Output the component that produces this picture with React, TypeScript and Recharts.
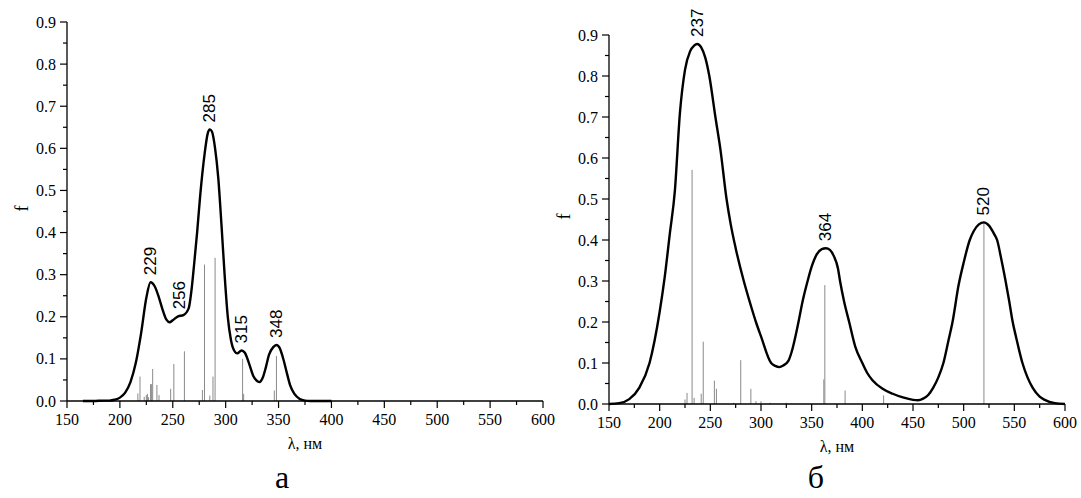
import { ComposedChart, Line, XAxis, YAxis, ReferenceLine, Scatter } from "recharts";

// spectrum a: broadened curve
const wlA = [165, 175, 185, 190, 195, 200, 205, 210, 215, 220, 225, 229, 233, 237, 240, 244, 247, 250, 255, 260, 265, 268, 270, 273, 276, 280, 283, 285, 287, 290, 293, 296, 299, 302, 305, 308, 311, 315, 318, 322, 326, 330, 332, 335, 338, 341, 345, 348, 351, 355, 358, 361, 365, 370, 375, 380, 390, 400];
const fA = [0, 0, 0.001, 0.001, 0.003, 0.008, 0.02, 0.045, 0.09, 0.16, 0.245, 0.282, 0.272, 0.245, 0.22, 0.193, 0.187, 0.192, 0.201, 0.204, 0.22, 0.27, 0.32, 0.4, 0.49, 0.585, 0.635, 0.645, 0.64, 0.6, 0.53, 0.42, 0.3, 0.2, 0.145, 0.12, 0.113, 0.12, 0.115, 0.09, 0.06, 0.047, 0.045, 0.055, 0.08, 0.11, 0.128, 0.133, 0.126, 0.095, 0.065, 0.037, 0.017, 0.005, 0.001, 0, 0, 0];

// spectrum a: oscillator strengths
const stickWlA = [217, 219, 223, 225, 226, 227, 229, 230, 231, 235, 237, 248, 251, 261, 278, 280, 285, 288, 290, 316, 317, 346, 348];
const stickFA = [0.018, 0.058, 0.01, 0.014, 0.017, 0.009, 0.04, 0.04, 0.076, 0.038, 0.014, 0.029, 0.088, 0.118, 0.026, 0.324, 0.013, 0.058, 0.34, 0.1, 0.017, 0.025, 0.107];

const peaksA = [229, 256, 285, 315, 348];

// spectrum б: broadened curve
const wlB = [150, 160, 170, 180, 190, 200, 205, 210, 215, 220, 225, 230, 234, 237, 241, 245, 249, 255, 260, 266, 270, 275, 283, 290, 295, 300, 310, 314, 318, 322, 327, 330, 337, 341, 346, 350, 355, 360, 364, 368, 372, 376, 378, 382, 387, 393, 400, 405, 410, 420, 430, 440, 450, 455, 460, 465, 470, 475, 480, 485, 489, 495, 500, 506, 510, 515, 520, 525, 530, 533, 537, 541, 545, 548, 552, 558, 563, 568, 575, 580, 590, 600];
const fB = [0, 0.002, 0.012, 0.04, 0.1, 0.225, 0.31, 0.415, 0.52, 0.71, 0.815, 0.86, 0.874, 0.878, 0.87, 0.845, 0.8, 0.7, 0.62, 0.5, 0.44, 0.38, 0.3, 0.24, 0.2, 0.165, 0.1, 0.093, 0.09, 0.094, 0.105, 0.125, 0.2, 0.25, 0.3, 0.335, 0.365, 0.378, 0.38, 0.376, 0.36, 0.33, 0.3, 0.25, 0.2, 0.14, 0.1, 0.075, 0.058, 0.037, 0.025, 0.016, 0.01, 0.009, 0.013, 0.022, 0.04, 0.065, 0.1, 0.155, 0.2, 0.29, 0.345, 0.4, 0.422, 0.438, 0.443, 0.435, 0.415, 0.4, 0.355, 0.305, 0.25, 0.205, 0.16, 0.1, 0.065, 0.04, 0.018, 0.01, 0.002, 0];

const stickWlB = [225, 227, 232, 234, 241, 243, 254, 256, 273, 280, 290, 295, 300, 309, 325, 362, 363, 383, 421, 520];
const stickFB = [0.011, 0.027, 0.571, 0.015, 0.025, 0.152, 0.057, 0.037, 0.003, 0.107, 0.037, 0.007, 0.007, 0.003, 0.003, 0.06, 0.29, 0.033, 0.021, 0.443];

const peaksB = [237, 364, 520];

const xTicks = [150, 175, 200, 225, 250, 275, 300, 325, 350, 375, 400, 425, 450, 475, 500, 525, 550, 575, 600];
const yTicks = [0, 0.05, 0.1, 0.15, 0.2, 0.25, 0.3, 0.35, 0.4, 0.45, 0.5, 0.55, 0.6, 0.65, 0.7, 0.75, 0.8, 0.85, 0.9];

const serif = "Liberation Serif, serif";
const sans = "Liberation Sans, sans-serif";

function nearestF(wl: number[], f: number[], x: number) {
  let best = 0;
  wl.forEach((w, i) => {
    if (Math.abs(w - x) < Math.abs(wl[best] - x)) best = i;
  });
  return f[best];
}

function XTick(props: any) {
  const { x, y, payload } = props;
  const major = payload.value % 50 === 0;
  return (
    <g>
      <line x1={x} y1={y} x2={x} y2={y + (major ? 7 : 4)} stroke="#000" strokeWidth={1.2} />
      {major && (
        <text x={x} y={y + 24} textAnchor="middle" style={{ fontFamily: serif, fontSize: 16, fill: "#000" }}>
          {payload.value}
        </text>
      )}
    </g>
  );
}

function YTick(props: any) {
  const { x, y, payload } = props;
  const major = Math.round(payload.value * 100) % 10 === 0;
  return (
    <g>
      <line x1={x} y1={y} x2={x - (major ? 7 : 4)} y2={y} stroke="#000" strokeWidth={1.2} />
      {major && (
        <text x={x - 11} y={y} dy="0.35em" textAnchor="end" style={{ fontFamily: serif, fontSize: 16, fill: "#000" }}>
          {payload.value.toFixed(1)}
        </text>
      )}
    </g>
  );
}

function PeakLabel(props: any) {
  const { cx, cy, payload } = props;
  const y = cy - 7;
  return (
    <text
      x={cx}
      y={y}
      transform={`rotate(-90 ${cx} ${y})`}
      textAnchor="start"
      dominantBaseline="central"
      style={{ fontFamily: sans, fontSize: 17, fill: "#000" }}
    >
      {payload.label}
    </text>
  );
}

function Spectrum({ wl, f, stickWl, stickF, peaks, width, height, margin }: any) {
  const curve = wl.map((w: number, i: number) => ({ wl: w, f: f[i] }));
  const peakData = peaks.map((p: number) => ({ wl: p, f: nearestF(wl, f, p), label: String(p) }));
  return (
    <ComposedChart width={width} height={height} margin={margin}>
      <XAxis
        type="number"
        dataKey="wl"
        domain={[150, 600]}
        ticks={xTicks}
        interval={0}
        tickSize={0}
        tickMargin={0}
        tickLine={false}
        tick={<XTick />}
        height={60}
        axisLine={{ stroke: "#000", strokeWidth: 1.3 }}
        label={{ value: "λ, нм", position: "insideBottom", offset: 12, style: { fontFamily: serif, fontSize: 16, fill: "#000" } }}
      />
      <YAxis
        type="number"
        domain={[0, 0.9]}
        ticks={yTicks}
        interval={0}
        tickSize={0}
        tickMargin={0}
        tickLine={false}
        tick={<YTick />}
        width={46}
        axisLine={{ stroke: "#000", strokeWidth: 1.3 }}
        label={{ value: "f", angle: -90, position: "insideLeft", offset: 1, style: { fontFamily: serif, fontSize: 18, fill: "#000" } }}
      />
      {stickWl.map((w: number, i: number) => (
        <ReferenceLine
          key={i}
          segment={[{ x: w, y: 0 }, { x: w, y: stickF[i] }]}
          stroke="#8a8a8a"
          strokeWidth={1}
        />
      ))}
      <Line
        data={curve}
        dataKey="f"
        type="monotone"
        stroke="#000"
        strokeWidth={2.4}
        dot={false}
        isAnimationActive={false}
      />
      <Scatter data={peakData} dataKey="f" shape={<PeakLabel />} isAnimationActive={false} />
    </ComposedChart>
  );
}

export default function App() {
  return (
    <div style={{ position: "absolute", left: 0, top: 0, width: 1081, height: 498, overflow: "hidden", background: "#fff" }}>
      <div style={{ position: "absolute", left: 0, top: 0 }}>
        <Spectrum
          wl={wlA}
          f={fA}
          stickWl={stickWlA}
          stickF={stickFA}
          peaks={peaksA}
          width={560}
          height={498}
          margin={{ top: 22, right: 17, bottom: 37, left: 21 }}
        />
      </div>
      <div style={{ position: "absolute", left: 540, top: 0 }}>
        <Spectrum
          wl={wlB}
          f={fB}
          stickWl={stickWlB}
          stickF={stickFB}
          peaks={peaksB}
          width={541}
          height={498}
          margin={{ top: 35, right: 16, bottom: 34, left: 23 }}
        />
      </div>
      <div style={{ position: "absolute", left: 282, top: 461, transform: "translateX(-50%)", fontFamily: serif, fontSize: 32, lineHeight: 1 }}>
        а
      </div>
      <div style={{ position: "absolute", left: 816, top: 461, transform: "translateX(-50%)", fontFamily: serif, fontSize: 32, lineHeight: 1 }}>
        б
      </div>
    </div>
  );
}
